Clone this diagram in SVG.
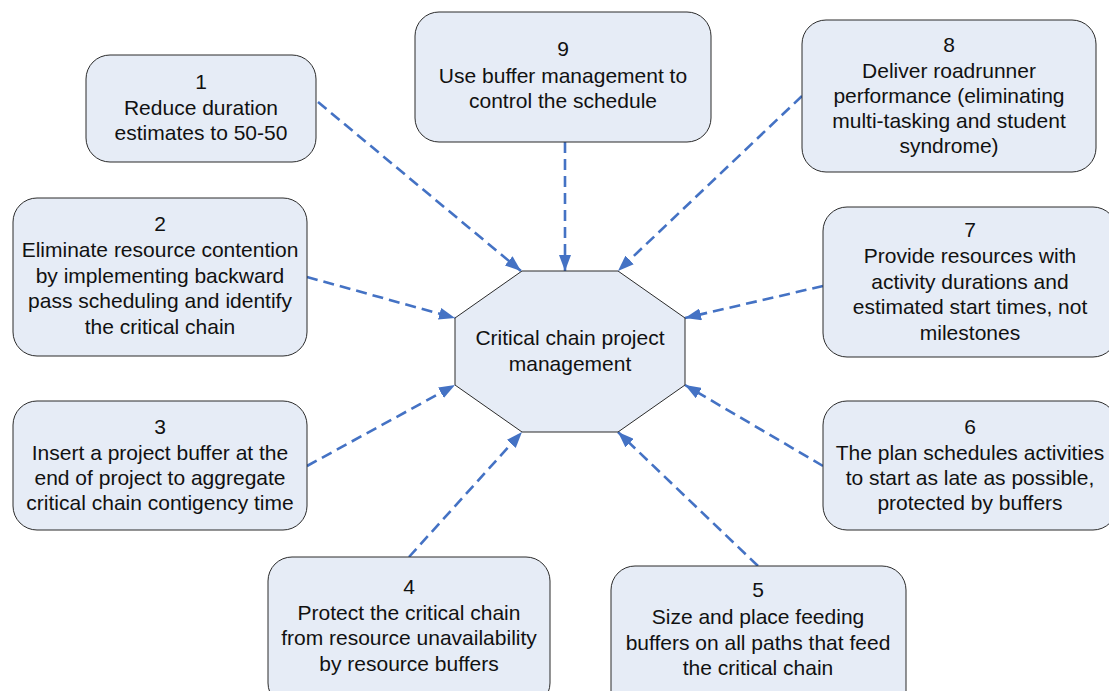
<svg xmlns="http://www.w3.org/2000/svg" width="1109" height="691" viewBox="0 0 1109 691">
<style>
.box{fill:#E6ECF6;stroke:#2b2b2b;stroke-width:1}
.oct{fill:#E6ECF6;stroke:#2b2b2b;stroke-width:1}
text{font-family:"Liberation Sans",Arial,sans-serif;font-size:21px;fill:#111;text-anchor:middle}
.con{stroke:#4472C4;stroke-width:2.6;stroke-dasharray:11 6;fill:none;marker-end:url(#ah)}
</style>
<defs>
<marker id="ah" markerWidth="16" markerHeight="12" refX="16" refY="6" orient="auto" markerUnits="userSpaceOnUse" viewBox="0 0 16 12">
<path d="M0,0 L16,6 L0,12 Z" fill="#4472C4"/>
</marker>
</defs>
<rect width="1109" height="691" fill="#fff"/>
<g id="connectors">
<line class="con" x1="318" y1="102" x2="521" y2="271"/>
<line class="con" x1="565" y1="142" x2="565" y2="271"/>
<line class="con" x1="802" y1="96" x2="618" y2="271"/>
<line class="con" x1="307" y1="277" x2="455" y2="318"/>
<line class="con" x1="823" y1="286" x2="685" y2="318"/>
<line class="con" x1="307" y1="466" x2="455" y2="385"/>
<line class="con" x1="823" y1="466" x2="685" y2="385"/>
<line class="con" x1="409" y1="557" x2="522" y2="432"/>
<line class="con" x1="758" y1="566" x2="618" y2="432"/>
</g>
<g id="center">
<polygon class="oct" points="522,271 618,271 685,318 685,385 618,432 522,432 455,385 455,318"/>
<text x="570" y="345">Critical chain project</text>
<text x="570" y="371">management</text>
</g>
<g id="n1">
<rect class="box" x="86" y="55" width="230" height="107" rx="24"/>
<text x="201" y="89">1</text>
<text x="201" y="115">Reduce duration</text>
<text x="201" y="140">estimates to 50-50</text>
</g>
<g id="n2">
<rect class="box" x="13" y="198" width="294" height="158" rx="24"/>
<text x="160" y="231">2</text>
<text x="160" y="257">Eliminate resource contention</text>
<text x="160" y="283">by implementing backward</text>
<text x="160" y="308">pass scheduling and identify</text>
<text x="160" y="334">the critical chain</text>
</g>
<g id="n3">
<rect class="box" x="13" y="401" width="294" height="129" rx="24"/>
<text x="160" y="434">3</text>
<text x="160" y="460">Insert a project buffer at the</text>
<text x="160" y="485">end of project to aggregate</text>
<text x="160" y="510">critical chain contigency time</text>
</g>
<g id="n4">
<rect class="box" x="268" y="557" width="282" height="150" rx="24"/>
<text x="409" y="594">4</text>
<text x="409" y="620">Protect the critical chain</text>
<text x="409" y="645">from resource unavailability</text>
<text x="409" y="671">by resource buffers</text>
</g>
<g id="n5">
<rect class="box" x="611" y="566" width="295" height="150" rx="24"/>
<text x="758" y="597">5</text>
<text x="758" y="624">Size and place feeding</text>
<text x="758" y="650">buffers on all paths that feed</text>
<text x="758" y="675">the critical chain</text>
</g>
<g id="n6">
<rect class="box" x="823" y="401" width="294" height="129" rx="24"/>
<text x="970" y="434">6</text>
<text x="970" y="460">The plan schedules activities</text>
<text x="970" y="485">to start as late as possible,</text>
<text x="970" y="510">protected by buffers</text>
</g>
<g id="n7">
<rect class="box" x="823" y="207" width="294" height="150" rx="24"/>
<text x="970" y="237">7</text>
<text x="970" y="263">Provide resources with</text>
<text x="970" y="289">activity durations and</text>
<text x="970" y="314">estimated start times, not</text>
<text x="970" y="340">milestones</text>
</g>
<g id="n8">
<rect class="box" x="802" y="20" width="294" height="152" rx="24"/>
<text x="949" y="52">8</text>
<text x="949" y="78">Deliver roadrunner</text>
<text x="949" y="103">performance (eliminating</text>
<text x="949" y="128">multi-tasking and student</text>
<text x="949" y="153">syndrome)</text>
</g>
<g id="n9">
<rect class="box" x="415" y="12" width="296" height="130" rx="24"/>
<text x="563" y="56">9</text>
<text x="563" y="83">Use buffer management to</text>
<text x="563" y="108">control the schedule</text>
</g>
</svg>
